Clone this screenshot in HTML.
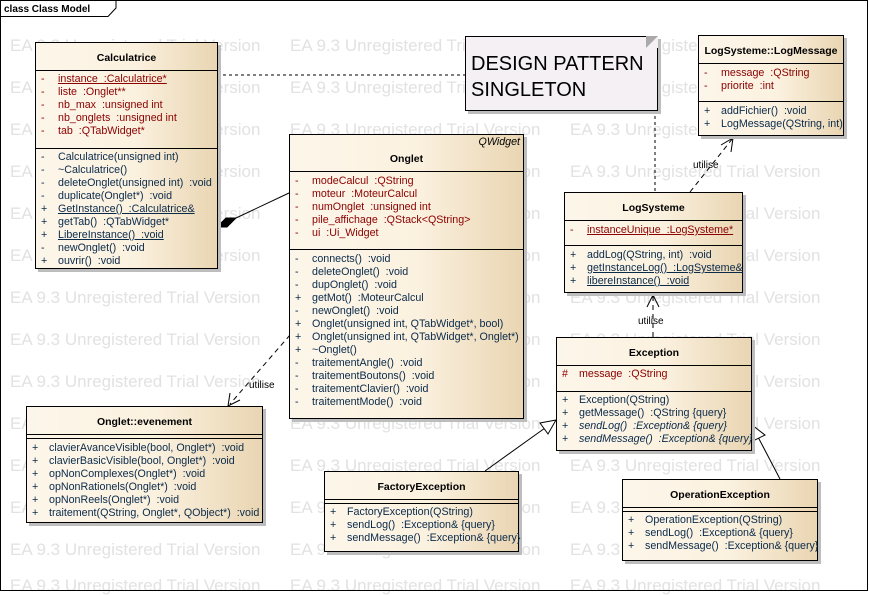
<!DOCTYPE html>
<html><head><meta charset="utf-8"><style>
body{margin:0;width:869px;height:592px;background:#fff;position:relative;overflow:hidden;font-family:"Liberation Sans",sans-serif}
.wm{position:absolute;color:#e2e2e2;font-size:17px;white-space:nowrap}
.box{position:absolute;border:1px solid #000;background:linear-gradient(90deg,#fcf6ea,#fbf1df 55%,#e9d5b2);box-shadow:3px 3px 0 #bdbdbd;font-size:10.7px;box-sizing:border-box}
.h{position:absolute;left:0;right:0;text-align:center;font-weight:bold;font-size:10.5px}
.sep{position:absolute;left:0;right:0;border-top:1px solid #000}
.r{position:absolute;white-space:nowrap;height:13px;line-height:13px}
.a{color:#8b0000}.m{color:#0a2a4a}
.u{text-decoration:underline}
.i{font-style:italic}
</style></head><body>
<svg width="869" height="592" style="position:absolute;left:0;top:0">
<rect x="0.5" y="0.5" width="867" height="590" fill="none" stroke="#000"/>
<path d="M0.5 16.5H108L116 8V0.5" fill="none" stroke="#000"/>
<text x="4" y="12" font-family="Liberation Sans" font-size="10" font-weight="bold">class Class Model</text>
<g stroke="#000" fill="none">
<line x1="217" y1="75" x2="465" y2="75" stroke-dasharray="3,3"/>
<line x1="655" y1="110" x2="655" y2="192" stroke-dasharray="3,3"/>
<line x1="236" y1="218" x2="289" y2="193"/>
<polygon points="217,227 226,218 236,218 227,227" fill="#000"/>
<line x1="290" y1="335" x2="230" y2="404" stroke-dasharray="5,4"/>
<polyline points="230,393 228,406 240,400"/>
<line x1="690" y1="192" x2="733" y2="138" stroke-dasharray="5,4"/>
<polyline points="721,145 733,138 731,152"/>
<line x1="653" y1="337" x2="653" y2="295" stroke-dasharray="5,4"/>
<polyline points="647,307 653,295 659,307"/>
<line x1="485" y1="471" x2="545" y2="428"/>
<polygon points="556,420 540,423 548,434" fill="#fff"/>
<line x1="780" y1="479" x2="758" y2="437"/>
<polygon points="752,425 753,441 765,435" fill="#fff"/>
</g>
<g font-family="Liberation Sans" font-size="10">
<text x="249" y="388">utilise</text>
<text x="693" y="168">utilise</text>
<text x="638" y="324">utilise</text>
</g>
</svg>

<div class="box" style="left:465px;top:36px;width:193px;height:75px;background:#f4f0f4;box-shadow:3px 3px 0 #bdbdbd">
<div style="position:absolute;left:5px;top:14px;font-size:20px;line-height:26px">DESIGN PATTERN<br>SINGLETON</div>
<div style="position:absolute;right:-1px;top:-1px;width:0;height:0;border-left:12px solid #aaa;border-bottom:12px solid #f4f0f4;border-top:0"></div>
</div>

<div class="box" style="left:35px;top:42px;width:183px;height:227px">
<div class="h" style="top:9px">Calculatrice</div>
<div class="sep" style="top:27px"></div>
<div class="r a" style="left:5px;top:30px">-</div><div class="r a u" style="left:22px;top:30px">instance&nbsp; :Calculatrice*</div>
<div class="r a" style="left:5px;top:43px">-</div><div class="r a" style="left:22px;top:43px">liste&nbsp; :Onglet**</div>
<div class="r a" style="left:5px;top:56px">-</div><div class="r a" style="left:22px;top:56px">nb_max&nbsp; :unsigned int</div>
<div class="r a" style="left:5px;top:69px">-</div><div class="r a" style="left:22px;top:69px">nb_onglets&nbsp; :unsigned int</div>
<div class="r a" style="left:5px;top:82px">-</div><div class="r a" style="left:22px;top:82px">tab&nbsp; :QTabWidget*</div>
<div class="sep" style="top:105px"></div>
<div class="r m" style="left:5px;top:108px">-</div><div class="r m" style="left:22px;top:108px">Calculatrice(unsigned int)</div>
<div class="r m" style="left:5px;top:121px">-</div><div class="r m" style="left:22px;top:121px">~Calculatrice()</div>
<div class="r m" style="left:5px;top:134px">-</div><div class="r m" style="left:22px;top:134px">deleteOnglet(unsigned int)&nbsp; :void</div>
<div class="r m" style="left:5px;top:147px">-</div><div class="r m" style="left:22px;top:147px">duplicate(Onglet*)&nbsp; :void</div>
<div class="r m" style="left:5px;top:160px">+</div><div class="r m u" style="left:22px;top:160px">GetInstance()&nbsp; :Calculatrice&amp;</div>
<div class="r m" style="left:5px;top:173px">+</div><div class="r m" style="left:22px;top:173px">getTab()&nbsp; :QTabWidget*</div>
<div class="r m" style="left:5px;top:186px">+</div><div class="r m u" style="left:22px;top:186px">LibereInstance()&nbsp; :void</div>
<div class="r m" style="left:5px;top:199px">-</div><div class="r m" style="left:22px;top:199px">newOnglet()&nbsp; :void</div>
<div class="r m" style="left:5px;top:212px">+</div><div class="r m" style="left:22px;top:212px">ouvrir()&nbsp; :void</div>
</div>

<div class="box" style="left:289px;top:134px;width:235px;height:285px">
<div class="r i" style="right:3px;top:1px">QWidget</div>
<div class="h" style="top:18px">Onglet</div>
<div class="sep" style="top:36px"></div>
<div class="r a" style="left:5px;top:40px">-</div><div class="r a" style="left:22px;top:40px">modeCalcul&nbsp; :QString</div>
<div class="r a" style="left:5px;top:53px">-</div><div class="r a" style="left:22px;top:53px">moteur&nbsp; :MoteurCalcul</div>
<div class="r a" style="left:5px;top:66px">-</div><div class="r a" style="left:22px;top:66px">numOnglet&nbsp; :unsigned int</div>
<div class="r a" style="left:5px;top:79px">-</div><div class="r a" style="left:22px;top:79px">pile_affichage&nbsp; :QStack&lt;QString&gt;</div>
<div class="r a" style="left:5px;top:92px">-</div><div class="r a" style="left:22px;top:92px">ui&nbsp; :Ui_Widget</div>
<div class="sep" style="top:114px"></div>
<div class="r m" style="left:5px;top:118px">-</div><div class="r m" style="left:22px;top:118px">connects()&nbsp; :void</div>
<div class="r m" style="left:5px;top:131px">-</div><div class="r m" style="left:22px;top:131px">deleteOnglet()&nbsp; :void</div>
<div class="r m" style="left:5px;top:144px">-</div><div class="r m" style="left:22px;top:144px">dupOnglet()&nbsp; :void</div>
<div class="r m" style="left:5px;top:157px">+</div><div class="r m" style="left:22px;top:157px">getMot()&nbsp; :MoteurCalcul</div>
<div class="r m" style="left:5px;top:170px">-</div><div class="r m" style="left:22px;top:170px">newOnglet()&nbsp; :void</div>
<div class="r m" style="left:5px;top:183px">+</div><div class="r m" style="left:22px;top:183px">Onglet(unsigned int, QTabWidget*, bool)</div>
<div class="r m" style="left:5px;top:196px">+</div><div class="r m" style="left:22px;top:196px">Onglet(unsigned int, QTabWidget*, Onglet*)</div>
<div class="r m" style="left:5px;top:209px">+</div><div class="r m" style="left:22px;top:209px">~Onglet()</div>
<div class="r m" style="left:5px;top:222px">-</div><div class="r m" style="left:22px;top:222px">traitementAngle()&nbsp; :void</div>
<div class="r m" style="left:5px;top:235px">-</div><div class="r m" style="left:22px;top:235px">traitementBoutons()&nbsp; :void</div>
<div class="r m" style="left:5px;top:248px">-</div><div class="r m" style="left:22px;top:248px">traitementClavier()&nbsp; :void</div>
<div class="r m" style="left:5px;top:261px">-</div><div class="r m" style="left:22px;top:261px">traitementMode()&nbsp; :void</div>
</div>

<div class="box" style="left:698px;top:35px;width:146px;height:101px">
<div class="h" style="top:9px">LogSysteme::LogMessage</div>
<div class="sep" style="top:27px"></div>
<div class="r a" style="left:5px;top:31px">-</div><div class="r a" style="left:22px;top:31px">message&nbsp; :QString</div>
<div class="r a" style="left:5px;top:44px">-</div><div class="r a" style="left:22px;top:44px">priorite&nbsp; :int</div>
<div class="sep" style="top:65px"></div>
<div class="r m" style="left:5px;top:69px">+</div><div class="r m" style="left:22px;top:69px">addFichier()&nbsp; :void</div>
<div class="r m" style="left:5px;top:82px">+</div><div class="r m" style="left:22px;top:82px">LogMessage(QString, int)</div>
</div>

<div class="box" style="left:564px;top:192px;width:179px;height:101px">
<div class="h" style="top:9px">LogSysteme</div>
<div class="sep" style="top:27px"></div>
<div class="r a" style="left:5px;top:31px">-</div><div class="r a u" style="left:22px;top:31px">instanceUnique&nbsp; :LogSysteme*</div>
<div class="sep" style="top:52px"></div>
<div class="r m" style="left:5px;top:56px">+</div><div class="r m" style="left:22px;top:56px">addLog(QString, int)&nbsp; :void</div>
<div class="r m" style="left:5px;top:69px">+</div><div class="r m u" style="left:22px;top:69px">getInstanceLog()&nbsp; :LogSysteme&amp;</div>
<div class="r m" style="left:5px;top:82px">+</div><div class="r m u" style="left:22px;top:82px">libereInstance()&nbsp; :void</div>
</div>

<div class="box" style="left:556px;top:337px;width:196px;height:114px">
<div class="h" style="top:9px">Exception</div>
<div class="sep" style="top:27px"></div>
<div class="r a" style="left:5px;top:30px">#</div><div class="r a" style="left:22px;top:30px">message&nbsp; :QString</div>
<div class="sep" style="top:53px"></div>
<div class="r m" style="left:5px;top:56px">+</div><div class="r m" style="left:22px;top:56px">Exception(QString)</div>
<div class="r m" style="left:5px;top:69px">+</div><div class="r m" style="left:22px;top:69px">getMessage()&nbsp; :QString {query}</div>
<div class="r m" style="left:5px;top:82px">+</div><div class="r m i" style="left:22px;top:82px">sendLog()&nbsp; :Exception&amp; {query}</div>
<div class="r m" style="left:5px;top:95px">+</div><div class="r m i" style="left:22px;top:95px">sendMessage()&nbsp; :Exception&amp; {query}</div>
</div>

<div class="box" style="left:26px;top:406px;width:237px;height:117px">
<div class="h" style="top:9px">Onglet::evenement</div>
<div class="sep" style="top:27px"></div>
<div class="sep" style="top:31px"></div>
<div class="r m" style="left:5px;top:35px">+</div><div class="r m" style="left:22px;top:35px">clavierAvanceVisible(bool, Onglet*)&nbsp; :void</div>
<div class="r m" style="left:5px;top:48px">+</div><div class="r m" style="left:22px;top:48px">clavierBasicVisible(bool, Onglet*)&nbsp; :void</div>
<div class="r m" style="left:5px;top:61px">+</div><div class="r m" style="left:22px;top:61px">opNonComplexes(Onglet*)&nbsp; :void</div>
<div class="r m" style="left:5px;top:74px">+</div><div class="r m" style="left:22px;top:74px">opNonRationels(Onglet*)&nbsp; :void</div>
<div class="r m" style="left:5px;top:87px">+</div><div class="r m" style="left:22px;top:87px">opNonReels(Onglet*)&nbsp; :void</div>
<div class="r m" style="left:5px;top:100px">+</div><div class="r m" style="left:22px;top:100px">traitement(QString, Onglet*, QObject*)&nbsp; :void</div>
</div>

<div class="box" style="left:324px;top:471px;width:195px;height:81px">
<div class="h" style="top:9px">FactoryException</div>
<div class="sep" style="top:27px"></div>
<div class="sep" style="top:31px"></div>
<div class="r m" style="left:5px;top:34px">+</div><div class="r m" style="left:22px;top:34px">FactoryException(QString)</div>
<div class="r m" style="left:5px;top:47px">+</div><div class="r m" style="left:22px;top:47px">sendLog()&nbsp; :Exception&amp; {query}</div>
<div class="r m" style="left:5px;top:60px">+</div><div class="r m" style="left:22px;top:60px">sendMessage()&nbsp; :Exception&amp; {query}</div>
</div>

<div class="box" style="left:622px;top:479px;width:196px;height:82px">
<div class="h" style="top:9px">OperationException</div>
<div class="sep" style="top:27px"></div>
<div class="sep" style="top:31px"></div>
<div class="r m" style="left:5px;top:34px">+</div><div class="r m" style="left:22px;top:34px">OperationException(QString)</div>
<div class="r m" style="left:5px;top:47px">+</div><div class="r m" style="left:22px;top:47px">sendLog()&nbsp; :Exception&amp; {query}</div>
<div class="r m" style="left:5px;top:60px">+</div><div class="r m" style="left:22px;top:60px">sendMessage()&nbsp; :Exception&amp; {query}</div>
</div>

<div style="position:absolute;left:0;top:0;z-index:-1">
<div class="wm" style="left:10px;top:36px">EA 9.3 Unregistered Trial Version</div><div class="wm" style="left:290px;top:36px">EA 9.3 Unregistered Trial Version</div><div class="wm" style="left:570px;top:36px">EA 9.3 Unregistered Trial Version</div>
<div class="wm" style="left:10px;top:78px">EA 9.3 Unregistered Trial Version</div><div class="wm" style="left:290px;top:78px">EA 9.3 Unregistered Trial Version</div><div class="wm" style="left:570px;top:78px">EA 9.3 Unregistered Trial Version</div>
<div class="wm" style="left:10px;top:120px">EA 9.3 Unregistered Trial Version</div><div class="wm" style="left:290px;top:120px">EA 9.3 Unregistered Trial Version</div><div class="wm" style="left:570px;top:120px">EA 9.3 Unregistered Trial Version</div>
<div class="wm" style="left:10px;top:162px">EA 9.3 Unregistered Trial Version</div><div class="wm" style="left:290px;top:162px">EA 9.3 Unregistered Trial Version</div><div class="wm" style="left:570px;top:162px">EA 9.3 Unregistered Trial Version</div>
<div class="wm" style="left:10px;top:204px">EA 9.3 Unregistered Trial Version</div><div class="wm" style="left:290px;top:204px">EA 9.3 Unregistered Trial Version</div><div class="wm" style="left:570px;top:204px">EA 9.3 Unregistered Trial Version</div>
<div class="wm" style="left:10px;top:246px">EA 9.3 Unregistered Trial Version</div><div class="wm" style="left:290px;top:246px">EA 9.3 Unregistered Trial Version</div><div class="wm" style="left:570px;top:246px">EA 9.3 Unregistered Trial Version</div>
<div class="wm" style="left:10px;top:288px">EA 9.3 Unregistered Trial Version</div><div class="wm" style="left:290px;top:288px">EA 9.3 Unregistered Trial Version</div><div class="wm" style="left:570px;top:288px">EA 9.3 Unregistered Trial Version</div>
<div class="wm" style="left:10px;top:330px">EA 9.3 Unregistered Trial Version</div><div class="wm" style="left:290px;top:330px">EA 9.3 Unregistered Trial Version</div><div class="wm" style="left:570px;top:330px">EA 9.3 Unregistered Trial Version</div>
<div class="wm" style="left:10px;top:372px">EA 9.3 Unregistered Trial Version</div><div class="wm" style="left:290px;top:372px">EA 9.3 Unregistered Trial Version</div><div class="wm" style="left:570px;top:372px">EA 9.3 Unregistered Trial Version</div>
<div class="wm" style="left:10px;top:414px">EA 9.3 Unregistered Trial Version</div><div class="wm" style="left:290px;top:414px">EA 9.3 Unregistered Trial Version</div><div class="wm" style="left:570px;top:414px">EA 9.3 Unregistered Trial Version</div>
<div class="wm" style="left:10px;top:456px">EA 9.3 Unregistered Trial Version</div><div class="wm" style="left:290px;top:456px">EA 9.3 Unregistered Trial Version</div><div class="wm" style="left:570px;top:456px">EA 9.3 Unregistered Trial Version</div>
<div class="wm" style="left:10px;top:498px">EA 9.3 Unregistered Trial Version</div><div class="wm" style="left:290px;top:498px">EA 9.3 Unregistered Trial Version</div><div class="wm" style="left:570px;top:498px">EA 9.3 Unregistered Trial Version</div>
<div class="wm" style="left:10px;top:540px">EA 9.3 Unregistered Trial Version</div><div class="wm" style="left:290px;top:540px">EA 9.3 Unregistered Trial Version</div><div class="wm" style="left:570px;top:540px">EA 9.3 Unregistered Trial Version</div>
<div class="wm" style="left:10px;top:576px">EA 9.3 Unregistered Trial Version</div><div class="wm" style="left:290px;top:576px">EA 9.3 Unregistered Trial Version</div><div class="wm" style="left:570px;top:576px">EA 9.3 Unregistered Trial Version</div>
</div>
</body></html>
